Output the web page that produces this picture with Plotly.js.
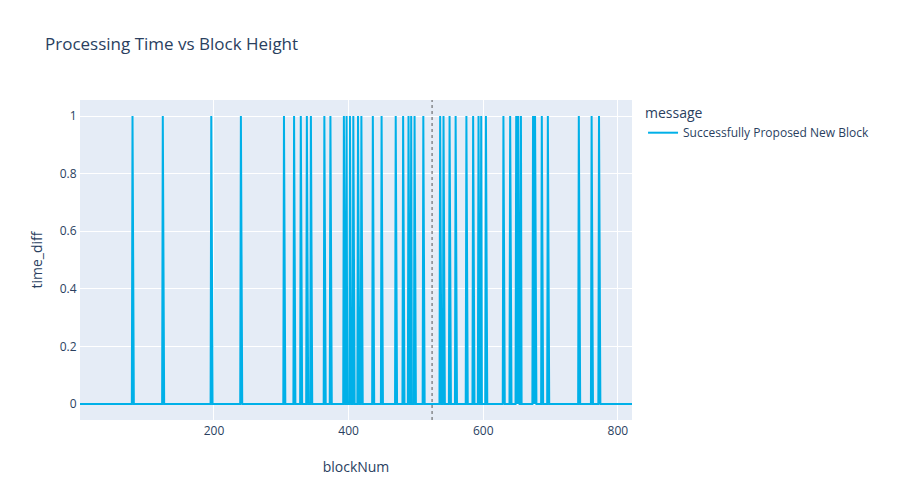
<!DOCTYPE html>
<html>
<head>
<script src="https://cdn.plot.ly/plotly-3.0.1.min.js"></script>
</head>
<body style="margin:0">
<div id="chart" style="width:900px;height:500px"></div>
<script>
// block numbers where time_diff reached 1
var spikeBlocks = [79, 124, 196, 240, 304, 319, 329, 338, 344, 364, 373, 393, 397, 402, 407, 414, 419,
  436, 449, 470, 481, 489, 493, 498, 511, 536, 541, 550, 559, 575, 585, 593, 597, 604, 630, 640,
  649, 652, 656, 674, 677, 687, 696, 742, 761, 772];
var firstBlock = 1;
var lastBlock = 821;
var markerBlock = 524;

var xs = [];
var ys = [];
for (var b = firstBlock; b <= lastBlock; b++) {
  xs.push(b);
  ys.push(spikeBlocks.indexOf(b) >= 0 ? 1 : 0);
}

var trace = {
  x: xs,
  y: ys,
  mode: 'lines',
  type: 'scatter',
  name: 'Successfully Proposed New Block',
  line: {color: '#00b0e8', width: 2},
  showlegend: true
};

var axisStyle = {gridcolor: 'white', zerolinecolor: 'white', zerolinewidth: 2, linecolor: 'white',
  ticks: '', automargin: false};

var layout = {
  width: 900, height: 500,
  font: {family: 'Open Sans, sans-serif', color: '#2a3f5f', size: 12},
  paper_bgcolor: 'white',
  plot_bgcolor: '#E5ECF6',
  margin: {l: 80, r: 268, t: 100, b: 80},
  title: {text: 'Processing Time vs Block Height', x: 0.05, font: {size: 17}},
  xaxis: Object.assign({title: {text: 'blockNum'}}, axisStyle),
  yaxis: Object.assign({title: {text: 'time_diff'}}, axisStyle),
  legend: {title: {text: 'message'}},
  shapes: [{type: 'line', xref: 'x', yref: 'paper', x0: markerBlock, x1: markerBlock, y0: 0, y1: 1,
    line: {color: '#555', width: 1, dash: 'dot'}}]
};
Plotly.newPlot('chart', [trace], layout, {displayModeBar: false});
</script>
</body>
</html>
